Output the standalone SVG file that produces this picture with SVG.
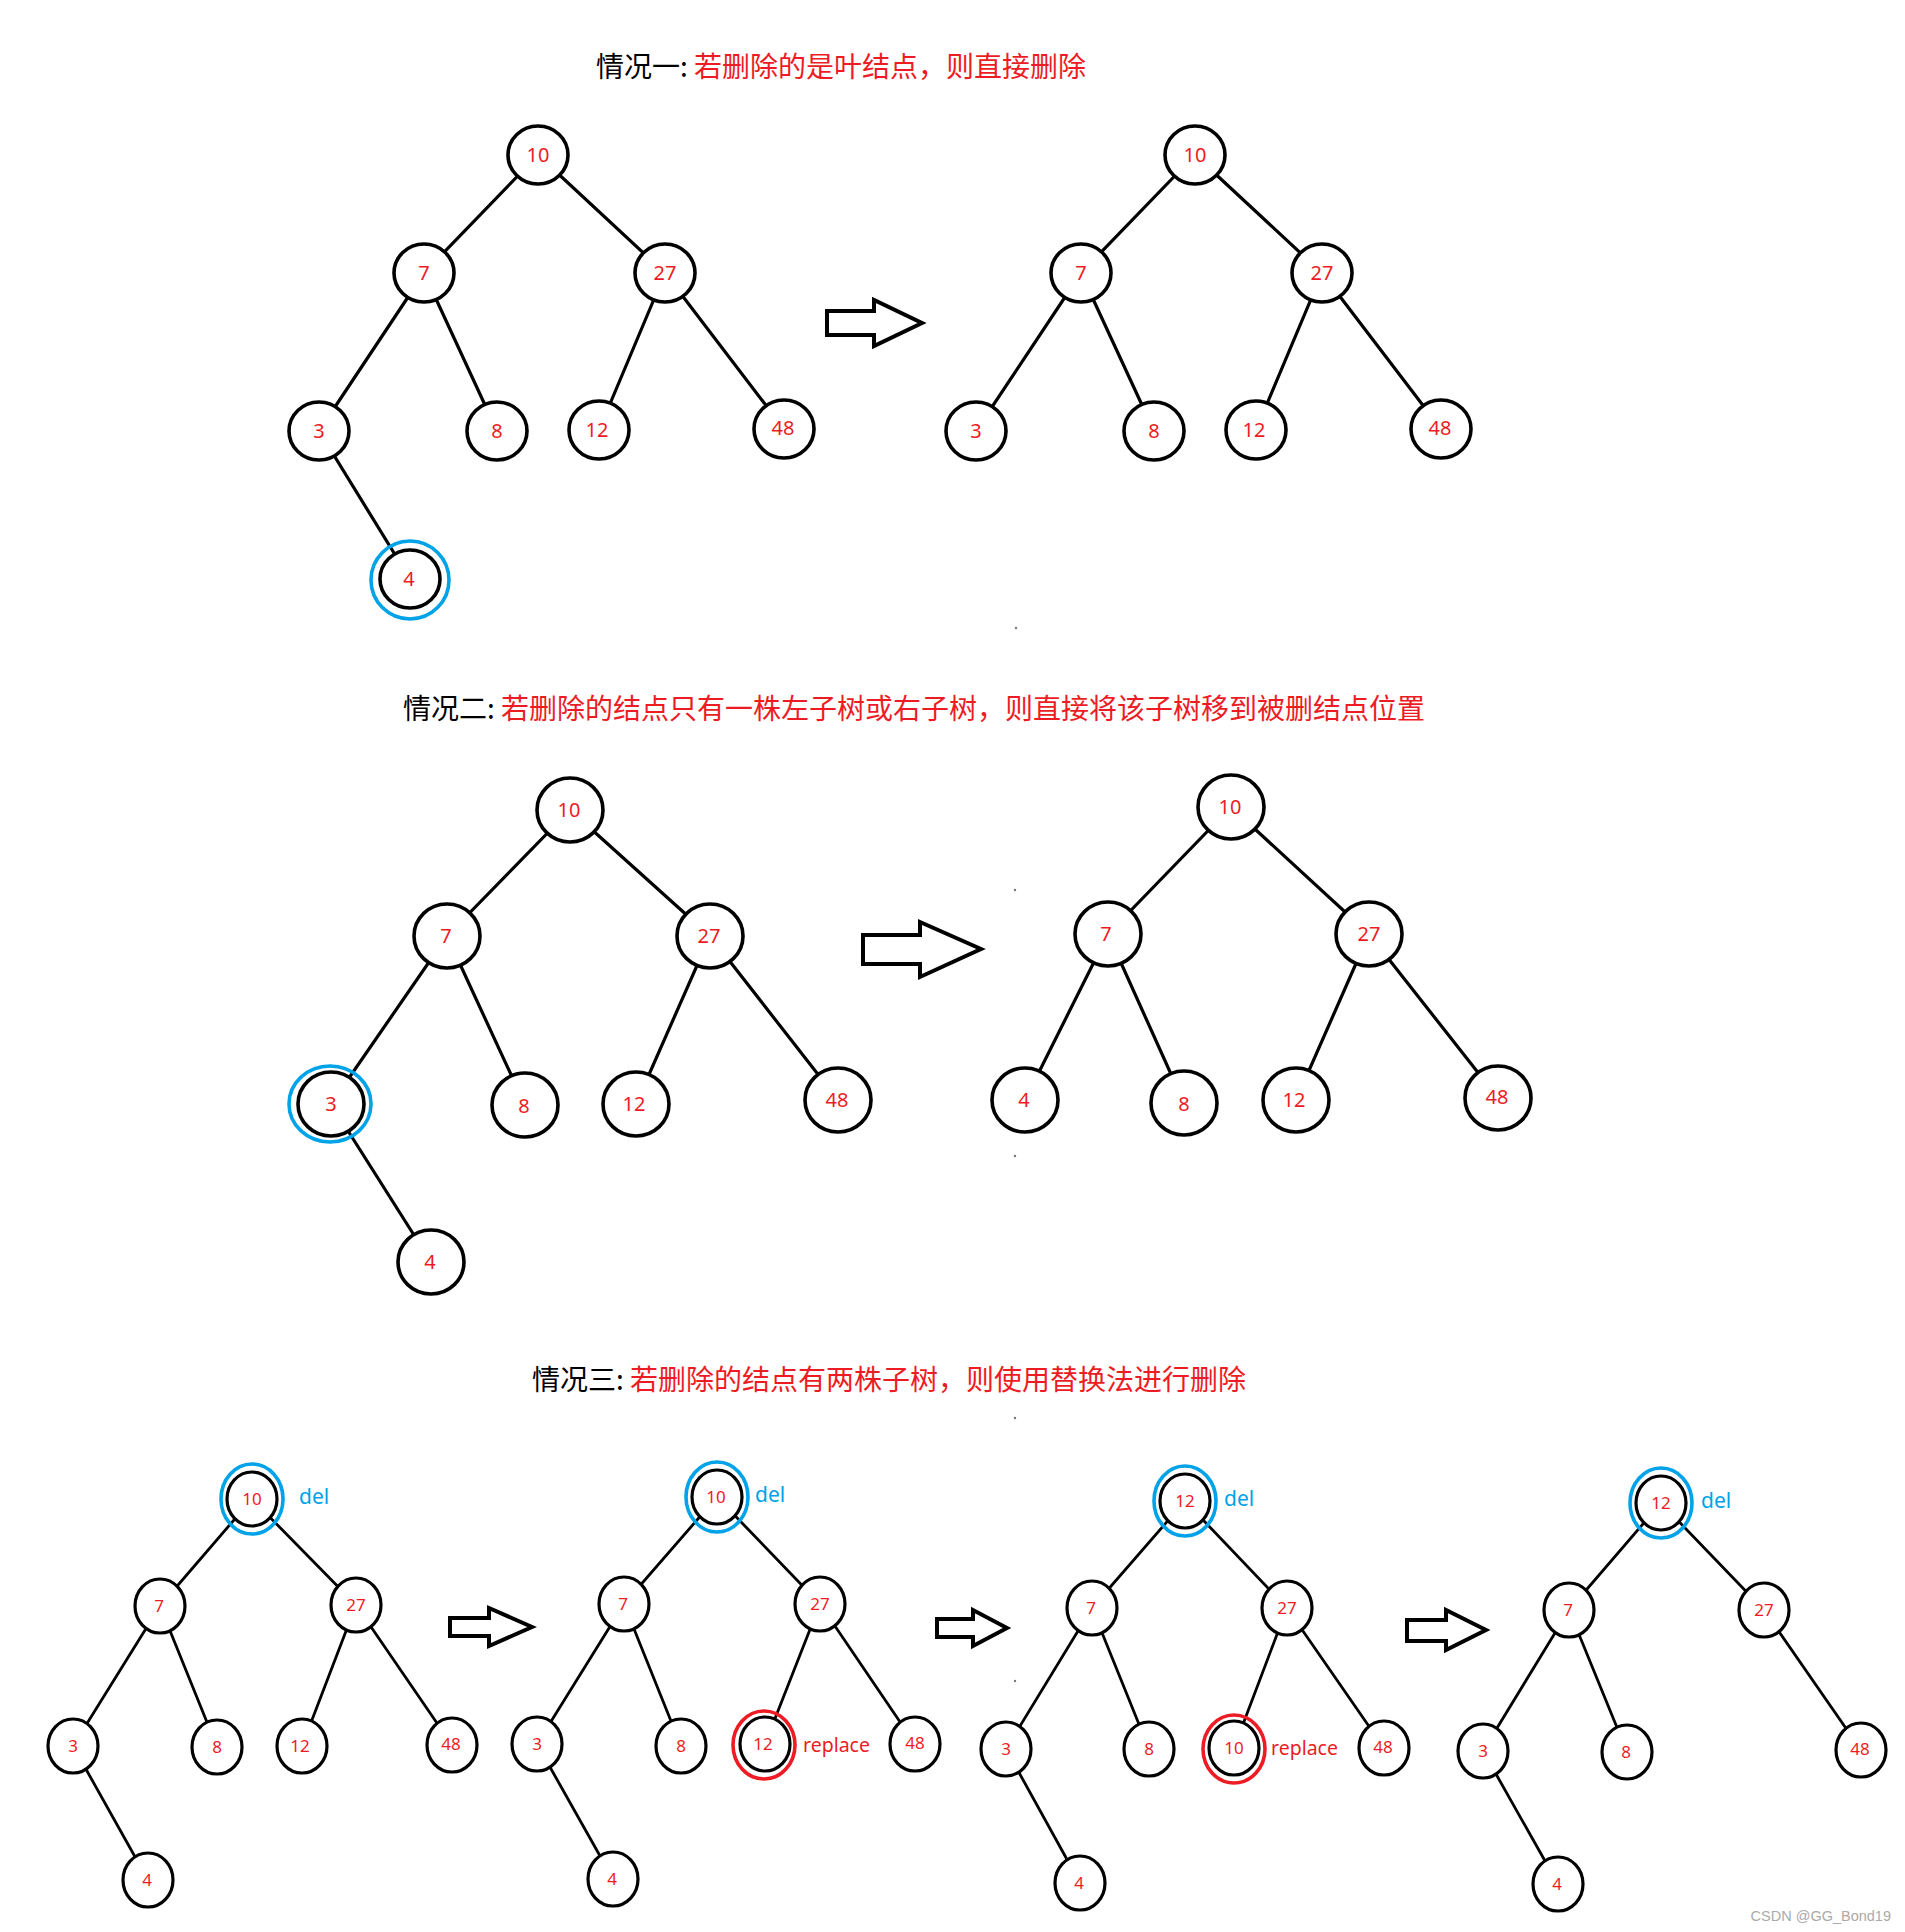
<svg xmlns="http://www.w3.org/2000/svg" width="1905" height="1932" viewBox="0 0 1905 1932">
<style>
.bg{fill:#fff}
.title{font-family:"Noto Sans CJK SC","Noto Sans",sans-serif;font-size:28px}
.blk{fill:#000}
.redt{fill:#ED1C24}
.e1{stroke:#000;stroke-width:3.2;fill:none;stroke-linecap:round}
.e3{stroke:#000;stroke-width:2.8;fill:none;stroke-linecap:round}
.n1{fill:#fff;stroke:#000;stroke-width:3.6}
.n3{fill:#fff;stroke:#000;stroke-width:3.2}
.t1{fill:#ED1C24;font-family:"Noto Sans","DejaVu Sans",sans-serif;font-size:20px;text-anchor:middle}
.t3{fill:#ED1C24;font-family:"Noto Sans","DejaVu Sans",sans-serif;font-size:17px;text-anchor:middle}
.blue{fill:none;stroke:#00A2E8;stroke-width:3.6}
.redr{fill:none;stroke:#ED1C24;stroke-width:3.6}
.del{fill:#00A2E8;font-family:"Noto Sans","DejaVu Sans",sans-serif;font-size:21px}
.rep{fill:#ED1C24;font-family:"Noto Sans","DejaVu Sans",sans-serif;font-size:19.5px}
.arrow{fill:#fff;stroke:#000;stroke-width:4;stroke-linejoin:miter}
.dot{fill:#777}
.wm{fill:#aaa;font-family:"Liberation Sans",sans-serif;font-size:14.5px;text-anchor:end}
</style>
<rect class="bg" x="0" y="0" width="1905" height="1932"/>

<!-- Titles -->
<g id="title1"><text class="title" x="596" y="77"><tspan class="blk">情况一: </tspan><tspan class="redt">若删除的是叶结点，则直接删除</tspan></text></g>
<g id="title2"><text class="title" x="403" y="719"><tspan class="blk">情况二: </tspan><tspan class="redt">若删除的结点只有一株左子树或右子树，则直接将该子树移到被删结点位置</tspan></text></g>
<g id="title3"><text class="title" x="532" y="1390"><tspan class="blk">情况三: </tspan><tspan class="redt">若删除的结点有两株子树，则使用替换法进行删除</tspan></text></g>

<!-- Connectors -->
<g id="connectors">
  <!-- S1 left -->
  <g class="e1">
    <line x1="538" y1="155" x2="424" y2="273"/>
    <line x1="538" y1="155" x2="665" y2="273"/>
    <line x1="424" y1="273" x2="319" y2="431"/>
    <line x1="424" y1="273" x2="497" y2="431"/>
    <line x1="665" y1="273" x2="599" y2="430"/>
    <line x1="665" y1="273" x2="784" y2="429"/>
    <line x1="319" y1="431" x2="410" y2="579"/>
  </g>
  <!-- S1 right -->
  <g class="e1">
    <line x1="1195" y1="155" x2="1081" y2="273"/>
    <line x1="1195" y1="155" x2="1322" y2="273"/>
    <line x1="1081" y1="273" x2="976" y2="431"/>
    <line x1="1081" y1="273" x2="1154" y2="431"/>
    <line x1="1322" y1="273" x2="1256" y2="430"/>
    <line x1="1322" y1="273" x2="1441" y2="429"/>
  </g>
  <!-- S2 left -->
  <g class="e1">
    <line x1="570" y1="810" x2="447" y2="936"/>
    <line x1="570" y1="810" x2="710" y2="936"/>
    <line x1="447" y1="936" x2="331" y2="1104"/>
    <line x1="447" y1="936" x2="525" y2="1105"/>
    <line x1="710" y1="936" x2="636" y2="1104"/>
    <line x1="710" y1="936" x2="838" y2="1100"/>
    <line x1="331" y1="1104" x2="431" y2="1262"/>
  </g>
  <!-- S2 right -->
  <g class="e1">
    <line x1="1231" y1="807" x2="1108" y2="934"/>
    <line x1="1231" y1="807" x2="1369" y2="934"/>
    <line x1="1108" y1="934" x2="1025" y2="1100"/>
    <line x1="1108" y1="934" x2="1184" y2="1103"/>
    <line x1="1369" y1="934" x2="1296" y2="1100"/>
    <line x1="1369" y1="934" x2="1498" y2="1098"/>
  </g>
  <!-- S3a -->
  <g class="e3">
    <line x1="252" y1="1499" x2="160" y2="1606"/>
    <line x1="252" y1="1499" x2="356" y2="1605"/>
    <line x1="160" y1="1606" x2="73" y2="1746"/>
    <line x1="160" y1="1606" x2="217" y2="1747"/>
    <line x1="356" y1="1605" x2="302" y2="1746"/>
    <line x1="356" y1="1605" x2="452" y2="1745"/>
    <line x1="73" y1="1746" x2="148" y2="1880"/>
  </g>
  <!-- S3b -->
  <g class="e3">
    <line x1="717" y1="1497" x2="624" y2="1604"/>
    <line x1="717" y1="1497" x2="820" y2="1604"/>
    <line x1="624" y1="1604" x2="537" y2="1744"/>
    <line x1="624" y1="1604" x2="681" y2="1746"/>
    <line x1="820" y1="1604" x2="765" y2="1744"/>
    <line x1="820" y1="1604" x2="915" y2="1744"/>
    <line x1="537" y1="1744" x2="613" y2="1879"/>
  </g>
  <!-- S3c -->
  <g class="e3">
    <line x1="1185" y1="1501" x2="1092" y2="1608"/>
    <line x1="1185" y1="1501" x2="1287" y2="1608"/>
    <line x1="1092" y1="1608" x2="1006" y2="1749"/>
    <line x1="1092" y1="1608" x2="1149" y2="1749"/>
    <line x1="1287" y1="1608" x2="1234" y2="1748"/>
    <line x1="1287" y1="1608" x2="1384" y2="1748"/>
    <line x1="1006" y1="1749" x2="1080" y2="1883"/>
  </g>
  <!-- S3d -->
  <g class="e3">
    <line x1="1661" y1="1503" x2="1569" y2="1610"/>
    <line x1="1661" y1="1503" x2="1764" y2="1610"/>
    <line x1="1569" y1="1610" x2="1483" y2="1751"/>
    <line x1="1569" y1="1610" x2="1627" y2="1752"/>
    <line x1="1764" y1="1610" x2="1861" y2="1750"/>
    <line x1="1483" y1="1751" x2="1558" y2="1884"/>
  </g>
</g>

<!-- Section 1 left tree -->
<g id="s1L-10"><ellipse class="n1" cx="538" cy="155" rx="30" ry="29"/><text class="t1" x="538" y="162">10</text></g>
<g id="s1L-7"><ellipse class="n1" cx="424" cy="273" rx="30" ry="29"/><text class="t1" x="424" y="280">7</text></g>
<g id="s1L-27"><ellipse class="n1" cx="665" cy="273" rx="30" ry="29"/><text class="t1" x="665" y="280">27</text></g>
<g id="s1L-3"><ellipse class="n1" cx="319" cy="431" rx="30" ry="29"/><text class="t1" x="319" y="438">3</text></g>
<g id="s1L-8"><ellipse class="n1" cx="497" cy="431" rx="30" ry="29"/><text class="t1" x="497" y="438">8</text></g>
<g id="s1L-12"><ellipse class="n1" cx="599" cy="430" rx="30" ry="29"/><text class="t1" x="597" y="437">12</text></g>
<g id="s1L-48"><ellipse class="n1" cx="784" cy="429" rx="30" ry="29"/><text class="t1" x="783" y="435">48</text></g>
<g id="s1L-4"><ellipse class="n1" cx="410" cy="579" rx="30" ry="29"/><circle class="blue" cx="410" cy="580" r="39"/><text class="t1" x="409" y="586">4</text></g>

<g id="arrow1"><polygon class="arrow" points="827,311 874,311 874,300 922,323 874,346 874,335 827,335"/></g>

<!-- Section 1 right tree -->
<g id="s1R-10"><ellipse class="n1" cx="1195" cy="155" rx="30" ry="29"/><text class="t1" x="1195" y="162">10</text></g>
<g id="s1R-7"><ellipse class="n1" cx="1081" cy="273" rx="30" ry="29"/><text class="t1" x="1081" y="280">7</text></g>
<g id="s1R-27"><ellipse class="n1" cx="1322" cy="273" rx="30" ry="29"/><text class="t1" x="1322" y="280">27</text></g>
<g id="s1R-3"><ellipse class="n1" cx="976" cy="431" rx="30" ry="29"/><text class="t1" x="976" y="438">3</text></g>
<g id="s1R-8"><ellipse class="n1" cx="1154" cy="431" rx="30" ry="29"/><text class="t1" x="1154" y="438">8</text></g>
<g id="s1R-12"><ellipse class="n1" cx="1256" cy="430" rx="30" ry="29"/><text class="t1" x="1254" y="437">12</text></g>
<g id="s1R-48"><ellipse class="n1" cx="1441" cy="429" rx="30" ry="29"/><text class="t1" x="1440" y="435">48</text></g>

<!-- Section 2 left tree -->
<g id="s2L-10"><ellipse class="n1" cx="570" cy="810" rx="33" ry="32"/><text class="t1" x="569" y="817">10</text></g>
<g id="s2L-7"><ellipse class="n1" cx="447" cy="936" rx="33" ry="32"/><text class="t1" x="446" y="943">7</text></g>
<g id="s2L-27"><ellipse class="n1" cx="710" cy="936" rx="33" ry="32"/><text class="t1" x="709" y="943">27</text></g>
<g id="s2L-3"><ellipse class="n1" cx="331" cy="1104" rx="33" ry="32"/><ellipse class="blue" cx="330" cy="1104" rx="41" ry="38"/><text class="t1" x="331" y="1111">3</text></g>
<g id="s2L-8"><ellipse class="n1" cx="525" cy="1105" rx="33" ry="32"/><text class="t1" x="524" y="1113">8</text></g>
<g id="s2L-12"><ellipse class="n1" cx="636" cy="1104" rx="33" ry="32"/><text class="t1" x="634" y="1111">12</text></g>
<g id="s2L-48"><ellipse class="n1" cx="838" cy="1100" rx="33" ry="32"/><text class="t1" x="837" y="1107">48</text></g>
<g id="s2L-4"><ellipse class="n1" cx="431" cy="1262" rx="33" ry="32"/><text class="t1" x="430" y="1269">4</text></g>

<g id="arrow2"><polygon class="arrow" points="863,935 920,935 920,922 981,949 920,977 920,964 863,964"/></g>

<!-- Section 2 right tree -->
<g id="s2R-10"><ellipse class="n1" cx="1231" cy="807" rx="33" ry="32"/><text class="t1" x="1230" y="814">10</text></g>
<g id="s2R-7"><ellipse class="n1" cx="1108" cy="934" rx="33" ry="32"/><text class="t1" x="1106" y="941">7</text></g>
<g id="s2R-27"><ellipse class="n1" cx="1369" cy="934" rx="33" ry="32"/><text class="t1" x="1369" y="941">27</text></g>
<g id="s2R-4"><ellipse class="n1" cx="1025" cy="1100" rx="33" ry="32"/><text class="t1" x="1024" y="1107">4</text></g>
<g id="s2R-8"><ellipse class="n1" cx="1184" cy="1103" rx="33" ry="32"/><text class="t1" x="1184" y="1111">8</text></g>
<g id="s2R-12"><ellipse class="n1" cx="1296" cy="1100" rx="33" ry="32"/><text class="t1" x="1294" y="1107">12</text></g>
<g id="s2R-48"><ellipse class="n1" cx="1498" cy="1098" rx="33" ry="32"/><text class="t1" x="1497" y="1104">48</text></g>

<!-- Section 3a -->
<g id="s3a-10"><ellipse class="n3" cx="252" cy="1499" rx="25" ry="27"/><ellipse class="blue" cx="252" cy="1499" rx="31" ry="35"/><text class="t3" x="252" y="1505">10</text><text class="del" x="299" y="1504">del</text></g>
<g id="s3a-7"><ellipse class="n3" cx="160" cy="1606" rx="25" ry="27"/><text class="t3" x="159" y="1612">7</text></g>
<g id="s3a-27"><ellipse class="n3" cx="356" cy="1605" rx="25" ry="27"/><text class="t3" x="356" y="1611">27</text></g>
<g id="s3a-3"><ellipse class="n3" cx="73" cy="1746" rx="25" ry="27"/><text class="t3" x="73" y="1752">3</text></g>
<g id="s3a-8"><ellipse class="n3" cx="217" cy="1747" rx="25" ry="27"/><text class="t3" x="217" y="1753">8</text></g>
<g id="s3a-12"><ellipse class="n3" cx="302" cy="1746" rx="25" ry="27"/><text class="t3" x="300" y="1752">12</text></g>
<g id="s3a-48"><ellipse class="n3" cx="452" cy="1745" rx="25" ry="27"/><text class="t3" x="451" y="1750">48</text></g>
<g id="s3a-4"><ellipse class="n3" cx="148" cy="1880" rx="25" ry="27"/><text class="t3" x="147" y="1886">4</text></g>

<g id="arrow3a"><polygon class="arrow" points="450,1618 489,1618 489,1608 532,1627 489,1646 489,1636 450,1636"/></g>

<!-- Section 3b -->
<g id="s3b-10"><ellipse class="n3" cx="717" cy="1497" rx="25" ry="27"/><ellipse class="blue" cx="717" cy="1497" rx="31" ry="35"/><text class="t3" x="716" y="1503">10</text><text class="del" x="755" y="1502">del</text></g>
<g id="s3b-7"><ellipse class="n3" cx="624" cy="1604" rx="25" ry="27"/><text class="t3" x="623" y="1610">7</text></g>
<g id="s3b-27"><ellipse class="n3" cx="820" cy="1604" rx="25" ry="27"/><text class="t3" x="820" y="1610">27</text></g>
<g id="s3b-3"><ellipse class="n3" cx="537" cy="1744" rx="25" ry="27"/><text class="t3" x="537" y="1750">3</text></g>
<g id="s3b-8"><ellipse class="n3" cx="681" cy="1746" rx="25" ry="27"/><text class="t3" x="681" y="1752">8</text></g>
<g id="s3b-12"><ellipse class="n3" cx="765" cy="1744" rx="25" ry="27"/><ellipse class="redr" cx="764" cy="1745" rx="31" ry="34"/><text class="t3" x="763" y="1750">12</text><text class="rep" x="803" y="1752">replace</text></g>
<g id="s3b-48"><ellipse class="n3" cx="915" cy="1744" rx="25" ry="27"/><text class="t3" x="915" y="1749">48</text></g>
<g id="s3b-4"><ellipse class="n3" cx="613" cy="1879" rx="25" ry="27"/><text class="t3" x="612" y="1885">4</text></g>

<g id="arrow3b"><polygon class="arrow" points="937,1619 973,1619 973,1610 1007,1628 973,1646 973,1637 937,1637"/></g>

<!-- Section 3c -->
<g id="s3c-12"><ellipse class="n3" cx="1185" cy="1501" rx="25" ry="27"/><ellipse class="blue" cx="1185" cy="1501" rx="31" ry="35"/><text class="t3" x="1185" y="1507">12</text><text class="del" x="1224" y="1506">del</text></g>
<g id="s3c-7"><ellipse class="n3" cx="1092" cy="1608" rx="25" ry="27"/><text class="t3" x="1091" y="1614">7</text></g>
<g id="s3c-27"><ellipse class="n3" cx="1287" cy="1608" rx="25" ry="27"/><text class="t3" x="1287" y="1614">27</text></g>
<g id="s3c-3"><ellipse class="n3" cx="1006" cy="1749" rx="25" ry="27"/><text class="t3" x="1006" y="1755">3</text></g>
<g id="s3c-8"><ellipse class="n3" cx="1149" cy="1749" rx="25" ry="27"/><text class="t3" x="1149" y="1755">8</text></g>
<g id="s3c-10"><ellipse class="n3" cx="1234" cy="1748" rx="25" ry="27"/><ellipse class="redr" cx="1234" cy="1749" rx="31" ry="34"/><text class="t3" x="1234" y="1754">10</text><text class="rep" x="1271" y="1755">replace</text></g>
<g id="s3c-48"><ellipse class="n3" cx="1384" cy="1748" rx="25" ry="27"/><text class="t3" x="1383" y="1753">48</text></g>
<g id="s3c-4"><ellipse class="n3" cx="1080" cy="1883" rx="25" ry="27"/><text class="t3" x="1079" y="1889">4</text></g>

<g id="arrow3c"><polygon class="arrow" points="1407,1620 1446,1620 1446,1610 1486,1630 1446,1650 1446,1641 1407,1641"/></g>

<!-- Section 3d -->
<g id="s3d-12"><ellipse class="n3" cx="1661" cy="1503" rx="25" ry="27"/><ellipse class="blue" cx="1661" cy="1503" rx="31" ry="35"/><text class="t3" x="1661" y="1509">12</text><text class="del" x="1701" y="1508">del</text></g>
<g id="s3d-7"><ellipse class="n3" cx="1569" cy="1610" rx="25" ry="27"/><text class="t3" x="1568" y="1616">7</text></g>
<g id="s3d-27"><ellipse class="n3" cx="1764" cy="1610" rx="25" ry="27"/><text class="t3" x="1764" y="1616">27</text></g>
<g id="s3d-3"><ellipse class="n3" cx="1483" cy="1751" rx="25" ry="27"/><text class="t3" x="1483" y="1757">3</text></g>
<g id="s3d-8"><ellipse class="n3" cx="1627" cy="1752" rx="25" ry="27"/><text class="t3" x="1626" y="1758">8</text></g>
<g id="s3d-48"><ellipse class="n3" cx="1861" cy="1750" rx="25" ry="27"/><text class="t3" x="1860" y="1755">48</text></g>
<g id="s3d-4"><ellipse class="n3" cx="1558" cy="1884" rx="25" ry="27"/><text class="t3" x="1557" y="1890">4</text></g>

<!-- specks -->
<g id="specks">
  <circle class="dot" cx="1016" cy="628" r="1.2"/>
  <circle class="dot" cx="1015" cy="890" r="1.2"/>
  <circle class="dot" cx="1015" cy="1156" r="1.2"/>
  <circle class="dot" cx="1015" cy="1418" r="1.2"/>
  <circle class="dot" cx="1015" cy="1681" r="1.2"/>
</g>

<text class="wm" x="1891" y="1921">CSDN @GG_Bond19</text>
</svg>
